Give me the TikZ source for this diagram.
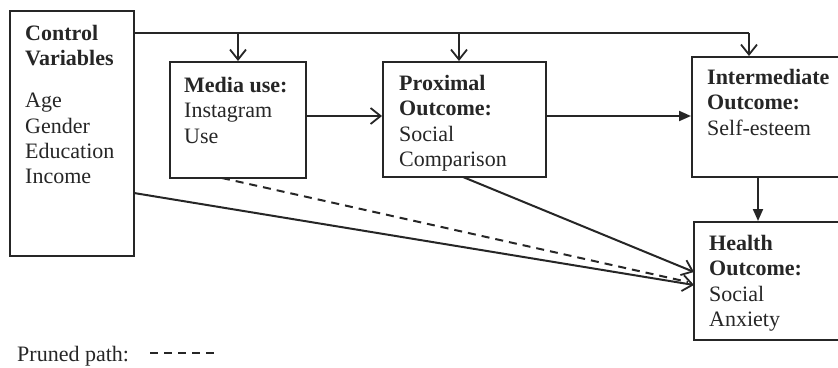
\documentclass[tikz,border=0pt]{standalone}
\usepackage{fontspec}
\setmainfont{Liberation Serif}
\usetikzlibrary{arrows.meta}
\definecolor{ink}{HTML}{262626}
\begin{document}
\begin{tikzpicture}[x=1pt,y=-1pt,
  box/.style={draw=ink,line width=2pt,inner sep=0pt},
  txt/.style={anchor=north west,inner sep=0pt,align=left,text=ink,font=\fontsize{22}{25.3}\selectfont},
  openarr/.style={draw=ink,line width=2pt,-{Straight Barb[length=10pt,width=16pt,line width=1.8pt]}},
  fillarr/.style={draw=ink,line width=2pt,-{Triangle[length=12pt,width=10pt]}},
  pruned/.style={draw=ink,line width=2pt,dash pattern=on 8pt off 6pt}]
\clip (0,0) rectangle (838,367);
\fill[white] (0,0) rectangle (838,367);
% boxes
\node[box,minimum width=124pt,minimum height=245pt] (ctrl) at (72,133.5) {};
\node[box,minimum width=136pt,minimum height=116pt] (media) at (238,120) {};
\node[box,minimum width=163pt,minimum height=115pt] (prox) at (464.5,119.5) {};
\node[box,minimum width=160pt,minimum height=120pt] (inter) at (772,117) {};
\node[box,minimum width=160pt,minimum height=118pt] (health) at (774,281) {};
% texts
\node[txt] (ctrlT) at (25,25) {\textbf{Control}\\\textbf{Variables}};
\node[txt] (ctrlL) at (25,93) {Age\\Gender\\Education\\Income};
\node[txt] (mediaT) at (184,77) {\textbf{Media use:}\\Instagram\\Use};
\node[txt] (proxT) at (399,75) {\textbf{Proximal}\\\textbf{Outcome:}\\Social\\Comparison};
\node[txt] (interT) at (707,69) {\textbf{Intermediate}\\\textbf{Outcome:}\\Self-esteem};
\node[txt] (healthT) at (709,235) {\textbf{Health}\\\textbf{Outcome:}\\Social\\Anxiety};
% top control line
\coordinate (c0) at (134,33);
\coordinate (t1) at (238,33);
\coordinate (t2) at (459,33);
\coordinate (t3) at (749,33);
\draw[draw=ink,line width=1.4pt] (c0) -- (t3);
\draw[openarr] (t1) -- (t1 |- media.north);
\draw[openarr] (t2) -- (t2 |- prox.north);
\draw[openarr] (t3) -- (t3 |- inter.north);
% main chain
\coordinate (m1) at (306,116);
\coordinate (p1) at (546,116);
\draw[openarr] (m1) -- (m1 -| prox.west);
\draw[fillarr] (p1) -- (p1 -| inter.west);
\coordinate (i1) at (758,177);
\draw[fillarr] (i1) -- (i1 |- health.north);
% diagonals
\coordinate (pb) at (463,177);
\coordinate (h1) at (694,272);
\draw[openarr] (pb) -- (h1);
\coordinate (cb) at (134,193);
\coordinate (h2) at (694,285);
\draw[openarr] (cb) -- (h2);
\coordinate (mb) at (222,178);
\coordinate (h3) at (688,282);
\draw[pruned] (mb) -- (h3);
% legend
\node[anchor=base west,inner sep=0pt,text=ink,font=\fontsize{22}{25.3}\selectfont] (leg) at (17,361) {Pruned path:};
\coordinate (l1) at (150,353);
\coordinate (l2) at (218,353);
\draw[pruned] (l1) -- (l2);
\end{tikzpicture}
\end{document}
